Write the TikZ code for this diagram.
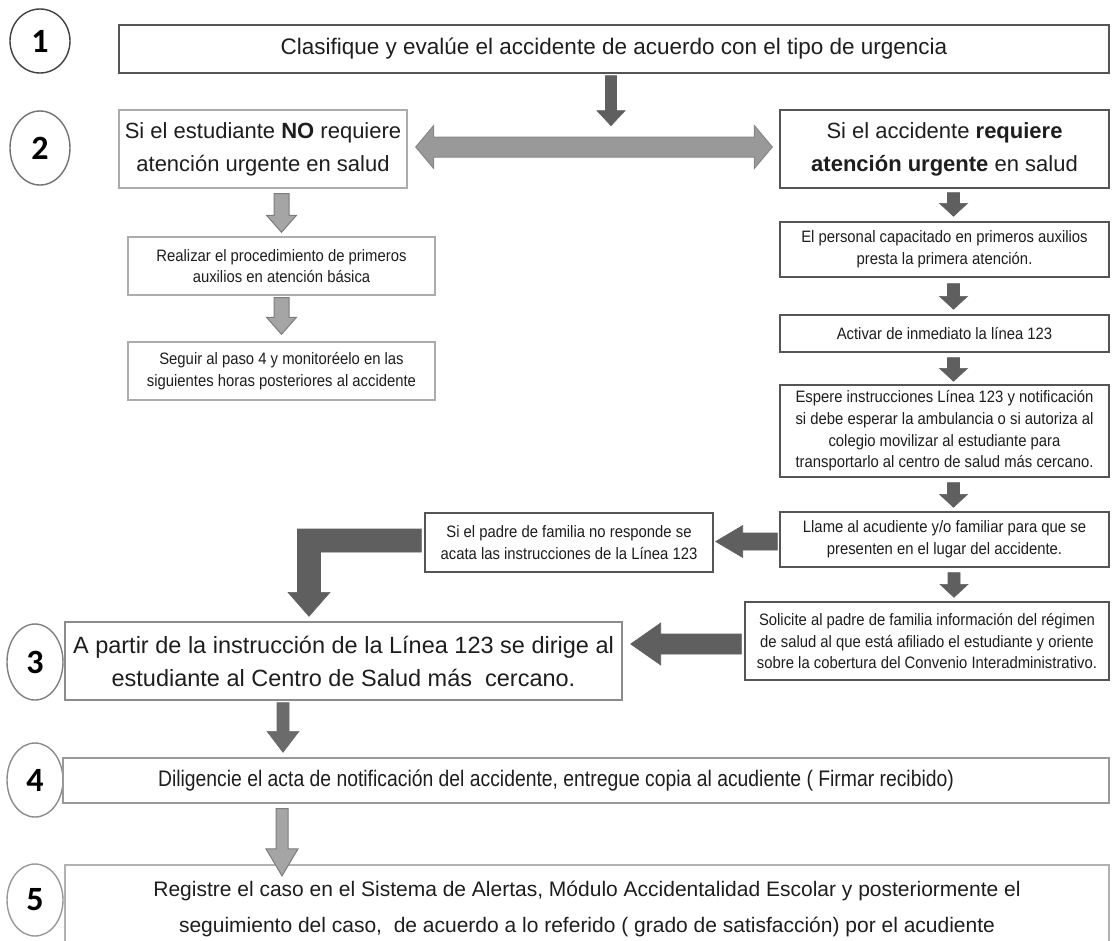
\documentclass[tikz,border=0pt]{standalone}
\usepackage{fontspec}
\setmainfont{Liberation Sans}
\newfontfamily\schmal[FakeStretch=0.9]{Liberation Sans}
\newfontfamily\halbschmal[FakeStretch=0.86]{Liberation Sans}
\newfontfamily\ziffer{Carlito}
\usetikzlibrary{calc,shapes.geometric}
\definecolor{textgrau}{RGB}{30,30,30}
\definecolor{rahmendunkel}{RGB}{85,85,85}
\definecolor{rahmenmittel}{RGB}{140,140,140}
\definecolor{rahmenhell}{RGB}{172,172,172}
\definecolor{pfeildunkel}{RGB}{95,95,95}
\definecolor{pfeilhell}{RGB}{165,165,165}
\definecolor{pfeilrand}{RGB}{125,125,125}

% block arrows: style, start, tip, half shaft, half head, head length
\newcommand{\pfeilab}[6]{%
  \draw[#1] let \p1=(#2), \p2=(#3) in
    (\x2-#4,\y1) -- (\x2+#4,\y1) -- (\x2+#4,\y2+#6) -- (\x2+#5,\y2+#6)
    -- (\x2,\y2) -- (\x2-#5,\y2+#6) -- (\x2-#4,\y2+#6) -- cycle;}
\newcommand{\pfeillinks}[6]{%
  \draw[#1] let \p1=(#2), \p2=(#3) in
    (\x1,\y2+#4) -- (\x1,\y2-#4) -- (\x2+#6,\y2-#4) -- (\x2+#6,\y2-#5)
    -- (\x2,\y2) -- (\x2+#6,\y2+#5) -- (\x2+#6,\y2+#4) -- cycle;}
\newcommand{\doppelpfeil}[6]{%
  \draw[#1] let \p1=(#2), \p2=(#3) in
    (\x1,\y1) -- (\x1+#6,\y1+#5) -- (\x1+#6,\y1+#4) -- (\x2-#6,\y1+#4)
    -- (\x2-#6,\y1+#5) -- (\x2,\y1) -- (\x2-#6,\y1-#5) -- (\x2-#6,\y1-#4)
    -- (\x1+#6,\y1-#4) -- (\x1+#6,\y1-#5) -- cycle;}
\newcommand{\winkelpfeil}[6]{%
  \draw[#1] let \p1=(#2), \p2=(#3) in
    (\x1,\y1+#4) -- (\x2-#4,\y1+#4) -- (\x2-#4,\y2+#6) -- (\x2-#5,\y2+#6)
    -- (\x2,\y2) -- (\x2+#5,\y2+#6) -- (\x2+#4,\y2+#6) -- (\x2+#4,\y1-#4)
    -- (\x1,\y1-#4) -- cycle;}

\begin{document}
\begin{tikzpicture}[x=1pt,y=-1pt,
    kasten/.style={draw=#1, line width=1.4pt, fill=white, align=center, inner sep=0pt, text=textgrau},
    gross/.style={font=\fontsize{22pt}{33pt}\selectfont},
    klein/.style={font=\schmal\fontsize{16.5pt}{21.7pt}\selectfont},
    kreis/.style={draw=#1, ellipse, line width=1.4pt, inner sep=0pt, text=black,
        font=\ziffer\bfseries\fontsize{34pt}{34pt}\selectfont},
    dunkel/.style={fill=pfeildunkel, draw=pfeildunkel, line width=0.6pt},
    hell/.style={fill=pfeilhell, draw=pfeilrand, line width=1pt}]

    \fill[white] (0,0) rectangle (1114,940);
    \useasboundingbox (0,0) rectangle (1114,940);

    % step numbers
    \node[kreis=black!75, minimum width=60pt, minimum height=64pt] (k1) at (40,41) {1};
    \node[kreis=black!55, minimum width=60pt, minimum height=74pt] (k2) at (40,148) {2};
    \node[kreis=black!50, minimum width=56pt, minimum height=76pt] (k3) at (35,662) {3};
    \node[kreis=black!45, minimum width=56pt, minimum height=74pt] (k4) at (35,780) {4};
    \node[kreis=black!40, minimum width=56pt, minimum height=72pt] (k5) at (35,900) {5};

    % boxes
    \node[kasten=rahmendunkel, font=\fontsize{22.5pt}{33pt}\selectfont, minimum width=990pt, minimum height=48pt] (b1) at (614,49)
        {Clasifique y evalúe el accidente de acuerdo con el tipo de urgencia};
    \node[kasten=rahmenhell, gross, minimum width=288pt, minimum height=78pt] (b2l) at (263,149)
        {Si el estudiante \textbf{NO} requiere\\atención urgente en salud};
    \node[kasten=rahmendunkel, gross, minimum width=329pt, minimum height=78pt] (b2r) at (944.5,149)
        {Si el accidente \textbf{requiere}\\\textbf{atención urgente} en salud};
    \node[kasten=rahmenhell, klein, minimum width=307pt, minimum height=58pt] (b3l) at (281.5,266)
        {Realizar el procedimiento de primeros\\auxilios en atención básica};
    \node[kasten=rahmenhell, klein, minimum width=307pt, minimum height=58pt] (b4l) at (281.5,371)
        {Seguir al paso 4 y monitoréelo en las\\siguientes horas posteriores al accidente};
    \node[kasten=rahmendunkel, klein, minimum width=329pt, minimum height=55pt] (bper) at (944.5,249.5)
        {El personal capacitado en primeros auxilios\\presta la primera atención.};
    \node[kasten=rahmendunkel, klein, minimum width=329pt, minimum height=37pt] (bakt) at (944.5,333.5)
        {Activar de inmediato la línea 123};
    \node[kasten=rahmendunkel, klein, minimum width=329pt, minimum height=92pt] (besp) at (944.5,431)
        {Espere instrucciones Línea 123 y notificación\\si debe esperar la ambulancia o si autoriza al\\colegio movilizar al estudiante para\\transportarlo al centro de salud más cercano.};
    \node[kasten=rahmendunkel, klein, minimum width=329pt, minimum height=55pt] (blla) at (944.5,539.5)
        {Llame al acudiente y/o familiar para que se\\presenten en el lugar del accidente.};
    \node[kasten=rahmendunkel, klein, minimum width=288pt, minimum height=59pt] (bpad) at (569,542.5)
        {Si el padre de familia no responde se\\acata las instrucciones de la Línea 123};
    \node[kasten=rahmendunkel, klein, minimum width=364pt, minimum height=78pt] (bsol) at (927,641)
        {Solicite al padre de familia información del régimen\\de salud al que está afiliado el estudiante y oriente\\sobre la cobertura del Convenio Interadministrativo.};
    \node[kasten=rahmenmittel, font=\fontsize{23.5pt}{33pt}\selectfont, minimum width=557pt, minimum height=78pt] (b3) at (343.5,661)
        {A partir de la instrucción de la Línea 123 se dirige al\\estudiante al Centro de Salud más\ \ cercano.};
    \node[kasten=black!40, minimum width=1046pt, minimum height=45pt] (b4) at (586,780.5) {};
    \node[text=textgrau, inner sep=0pt, font=\halbschmal\fontsize{22.5pt}{33pt}\selectfont] (t4) at ($(b4.center)+(-30,0)$)
        {Diligencie el acta de notificación del accidente, entregue copia al acudiente ( Firmar recibido)};
    \node[align=center, inner sep=0pt, text=textgrau, font=\fontsize{21pt}{36pt}\selectfont] (b5) at (587,909)
        {Registre el caso en el Sistema de Alertas, Módulo Accidentalidad Escolar y posteriormente el\\seguimiento del caso,\ \ de acuerdo a lo referido ( grado de satisfacción) por el acudiente};
    \draw[black!30, line width=1.4pt] (65,945) |- (1109,865) -- (1109,945);

    % arrows
    \coordinate (treffer) at ($(b1.south)+(-3,52)$);
    \pfeilab{dunkel}{$(b1.south)+(0,2)$}{treffer}{5.5pt}{14pt}{15pt}
    \doppelpfeil{fill=black!40, draw=black!47, line width=1pt}{$(b2l.east)+(8,-2)$}{$(b2r.west)+(-7,-2)$}{10pt}{21.5pt}{18pt}

    \pfeilab{hell}{$(b2l.south)+(0,5)$}{$(b3l.north)+(0,-4)$}{7.5pt}{15pt}{17pt}
    \pfeilab{hell}{$(b3l.south)+(0,2)$}{$(b4l.north)+(0,-7)$}{7.5pt}{15pt}{17pt}

    \pfeilab{dunkel}{$(b2r.south)+(0,4)$}{$(bper.north)+(9,-5)$}{6pt}{14pt}{13pt}
    \pfeilab{dunkel}{$(bper.south)+(0,6)$}{$(bakt.north)+(9,-5)$}{6pt}{14pt}{13pt}
    \pfeilab{dunkel}{$(bakt.south)+(0,5)$}{$(besp.north)+(9,-3)$}{6pt}{14pt}{13pt}
    \pfeilab{dunkel}{$(besp.south)+(0,5)$}{$(blla.north)+(9,-4)$}{6pt}{14pt}{13pt}
    \pfeilab{dunkel}{$(blla.south)+(0,5)$}{$(bsol.north)+(27,-4)$}{6pt}{14pt}{13pt}

    \pfeillinks{dunkel}{$(blla.west)+(-2,2)$}{$(bpad.east)+(2,-1)$}{8.5pt}{16pt}{27pt}
    \pfeillinks{dunkel}{$(bsol.west)+(-3,2)$}{$(b3.east)+(8,-17)$}{10pt}{21pt}{30pt}
    \winkelpfeil{dunkel}{$(bpad.west)+(-3,-2)$}{$(b3.north)+(-34.5,-5)$}{11.5pt}{21pt}{24pt}

    \pfeilab{fill=black!58, draw=black!58, line width=0.6pt}{$(b3.south)+(0,2)$}{$(b4.north)+(-303,-5)$}{6pt}{16pt}{21pt}
    \pfeilab{hell}{$(b4.south)+(0,5)$}{$(b5.north)+(-305,-5)$}{6pt}{16pt}{27pt}

\end{tikzpicture}
\end{document}
